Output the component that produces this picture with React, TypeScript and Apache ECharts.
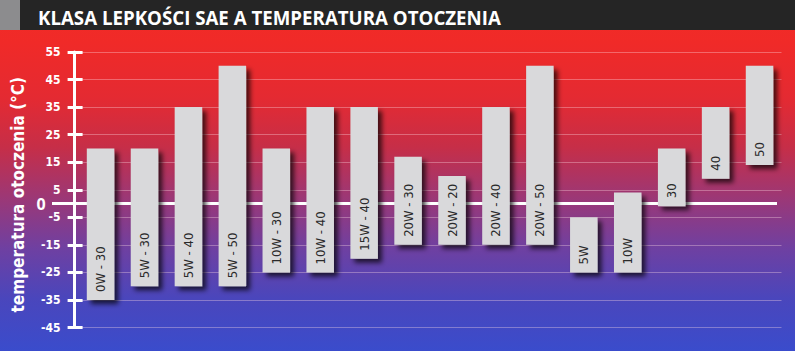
import React, { useEffect, useRef } from "react";
import * as echarts from "echarts";

const titleText = "KLASA LEPKOŚCI SAE A TEMPERATURA OTOCZENIA";
const axisTitle = "temperatura otoczenia (°C)";
const categories = [
  "0W - 30", "5W - 30", "5W - 40", "5W - 50", "10W - 30", "10W - 40", "15W - 40",
  "20W - 30", "20W - 20", "20W - 40", "20W - 50", "5W", "10W", "30", "40", "50",
];
const minTemps = [-35, -30, -30, -30, -25, -25, -20, -15, -15, -15, -15, -25, -25, -1, 9, 14];
const maxTemps = [20, 20, 35, 50, 20, 35, 35, 17, 10, 35, 50, -5, 4, 20, 35, 50];
const axisMin = -45;
const axisMax = 55;
const axisStep = 10;

const labelFont = "'Liberation Sans Narrow', 'DejaVu Sans Condensed', 'Open Sans', sans-serif";

export default function App() {
  const ref = useRef<HTMLDivElement>(null);
  useEffect(() => {
    if (!ref.current) return;
    const chart = echarts.init(ref.current, null, { renderer: "svg" });
    const spans = maxTemps.map((h, i) => h - minTemps[i]);
    const yCommon = {
      type: "value" as const,
      min: axisMin,
      max: axisMax,
      interval: axisStep,
      position: "left" as const,
      offset: 4,
    };
    chart.setOption({
      animation: false,
      title: {
        text: titleText,
        left: 33,
        top: 3,
        textStyle: { color: "#ffffff", fontSize: 18.7, fontWeight: "bold", fontFamily: "'Open Sans', sans-serif" },
      },
      grid: { left: 78.6, right: 13.5, top: 52, bottom: 23.5, containLabel: false },
      xAxis: {
        type: "category",
        data: categories,
        axisLine: { show: false },
        axisTick: { show: false },
        axisLabel: { show: false },
        splitLine: { show: false },
      },
      yAxis: [
        {
          ...yCommon,
          name: axisTitle,
          nameLocation: "middle",
          nameRotate: 90,
          nameGap: 48,
          nameTextStyle: { color: "#ffffff", fontSize: 17, fontWeight: 600, fontFamily: labelFont, padding: [0, 10, 0, 0] },
          axisLine: { show: true, lineStyle: { color: "#ffffff", width: 3 } },
          axisTick: { show: true, length: 7, lineStyle: { color: "#ffffff", width: 3 } },
          axisLabel: { color: "#ffffff", fontSize: 12, fontWeight: "bold", fontFamily: labelFont, margin: 14 },
          splitLine: { show: true, lineStyle: { color: "rgba(255,220,230,0.35)", width: 1 } },
        },
        {
          ...yCommon,
          axisLine: { show: false },
          axisTick: { show: true, inside: true, length: 8, lineStyle: { color: "#ffffff", width: 3 } },
          axisLabel: { show: false },
          splitLine: { show: false },
        },
      ],
      series: [
        {
          type: "bar",
          stack: "range",
          stackStrategy: "all",
          data: minTemps,
          barWidth: 27.5,
          itemStyle: { color: "transparent" },
          silent: true,
        },
        {
          type: "bar",
          stack: "range",
          stackStrategy: "all",
          data: spans,
          barWidth: 27.5,
          itemStyle: {
            color: "#d9d9db",
            shadowColor: "rgba(0,0,0,0.7)",
            shadowBlur: 5,
            shadowOffsetX: 4,
            shadowOffsetY: 4,
          },
          label: {
            show: true,
            position: "insideBottom",
            rotate: 90,
            align: "left",
            verticalAlign: "middle",
            distance: 8,
            formatter: (p: any) => categories[p.dataIndex],
            color: "#2a2a2a",
            fontSize: 13,
            fontWeight: 500,
            fontFamily: labelFont,
          },
        },
      ],
    });
    const y0 = chart.convertToPixel({ yAxisIndex: 0 }, 0) as number;
    chart.setOption({
      graphic: [
        { type: "rect", z: 0, shape: { x: 0, y: 0, width: 20, height: 30 }, style: { fill: "#8c8c8e" } },
        { type: "rect", z: 0, shape: { x: 20, y: 0, width: 775, height: 30 }, style: { fill: "#252525" } },
        { type: "line", z: 1, shape: { x1: 52, y1: y0, x2: 777, y2: y0 }, style: { stroke: "#ffffff", lineWidth: 3 } },
        {
          type: "text",
          z: 1,
          x: 41,
          y: y0,
          style: {
            text: "0",
            fill: "#ffffff",
            font: "bold 16px 'Open Sans', sans-serif",
            align: "center",
            verticalAlign: "middle",
          },
        },
      ],
    });
    return () => chart.dispose();
  }, []);
  return (
    <div
      ref={ref}
      style={{
        position: "fixed",
        left: 0,
        top: 0,
        width: 795,
        height: 351,
        background:
          "linear-gradient(to bottom, #f22c26 0%, #f02a28 12%, #e42a32 28%, #c62e48 42%, #9a3878 57%, #6e40a2 71%, #4a46bc 85%, #3a4ccc 100%)",
      }}
    />
  );
}
